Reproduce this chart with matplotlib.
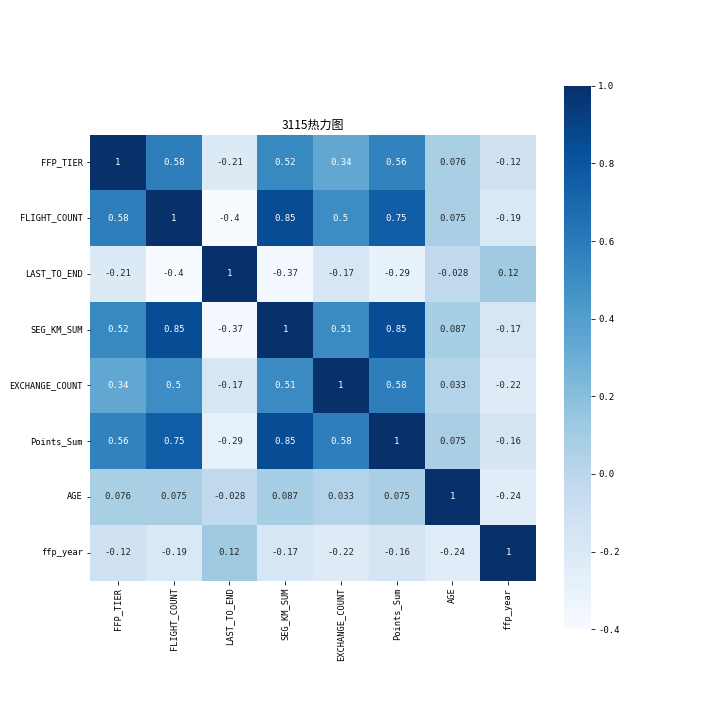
import matplotlib
matplotlib.use("Agg")
import matplotlib.pyplot as plt
from matplotlib import font_manager
import seaborn as sns
import numpy as np
import pandas as pd

names = {f.name for f in font_manager.fontManager.ttflist}
plt.rcParams['font.family'] = ['Noto Sans CJK SC', 'DejaVu Sans']
plt.rcParams['axes.unicode_minus'] = False

if 'Liberation Sans Narrow' in names:
    tick_font = dict(family=['Liberation Sans Narrow', 'Noto Sans CJK SC'], size=10)
else:
    tick_font = dict(family=['DejaVu Sans Mono', 'Noto Sans CJK SC'], size=8.6)

labels = ["FFP_TIER", "FLIGHT_COUNT", "LAST_TO_END", "SEG_KM_SUM",
          "EXCHANGE_COUNT", "Points_Sum", "AGE", "ffp_year"]

row_ffp_tier = [1, 0.58, -0.21, 0.52, 0.34, 0.56, 0.076, -0.12]
row_flight_count = [0.58, 1, -0.4, 0.85, 0.5, 0.75, 0.075, -0.19]
row_last_to_end = [-0.21, -0.4, 1, -0.37, -0.17, -0.29, -0.028, 0.12]
row_seg_km_sum = [0.52, 0.85, -0.37, 1, 0.51, 0.85, 0.087, -0.17]
row_exchange_count = [0.34, 0.5, -0.17, 0.51, 1, 0.58, 0.033, -0.22]
row_points_sum = [0.56, 0.75, -0.29, 0.85, 0.58, 1, 0.075, -0.16]
row_age = [0.076, 0.075, -0.028, 0.087, 0.033, 0.075, 1, -0.24]
row_ffp_year = [-0.12, -0.19, 0.12, -0.17, -0.22, -0.16, -0.24, 1]

corr = pd.DataFrame([row_ffp_tier, row_flight_count, row_last_to_end, row_seg_km_sum,
                     row_exchange_count, row_points_sum, row_age, row_ffp_year],
                    index=labels, columns=labels)

W = 720.0
fig = plt.figure(figsize=(10, 10), dpi=72)
ax = fig.add_axes([90 / W, (W - 580.5) / W, 446 / W, 446 / W])
cax = fig.add_axes([564 / W, (W - 629.3) / W, 27 / W, 543.6 / W])
sns.heatmap(corr, annot=True, vmax=1, square=True, cmap="Blues", ax=ax, cbar_ax=cax,
            annot_kws=dict(family=['DejaVu Sans Mono', 'Noto Sans CJK SC'], size=9))
for t in ax.get_xticklabels() + ax.get_yticklabels():
    t.set_fontfamily(tick_font['family'])
    t.set_fontsize(tick_font['size'])
for t in cax.get_yticklabels():
    t.set_fontfamily(['DejaVu Sans Mono', 'Noto Sans CJK SC'])
    t.set_fontsize(9)
ax.set_title("3115热力图")
fig.savefig("out.png", dpi=72)
